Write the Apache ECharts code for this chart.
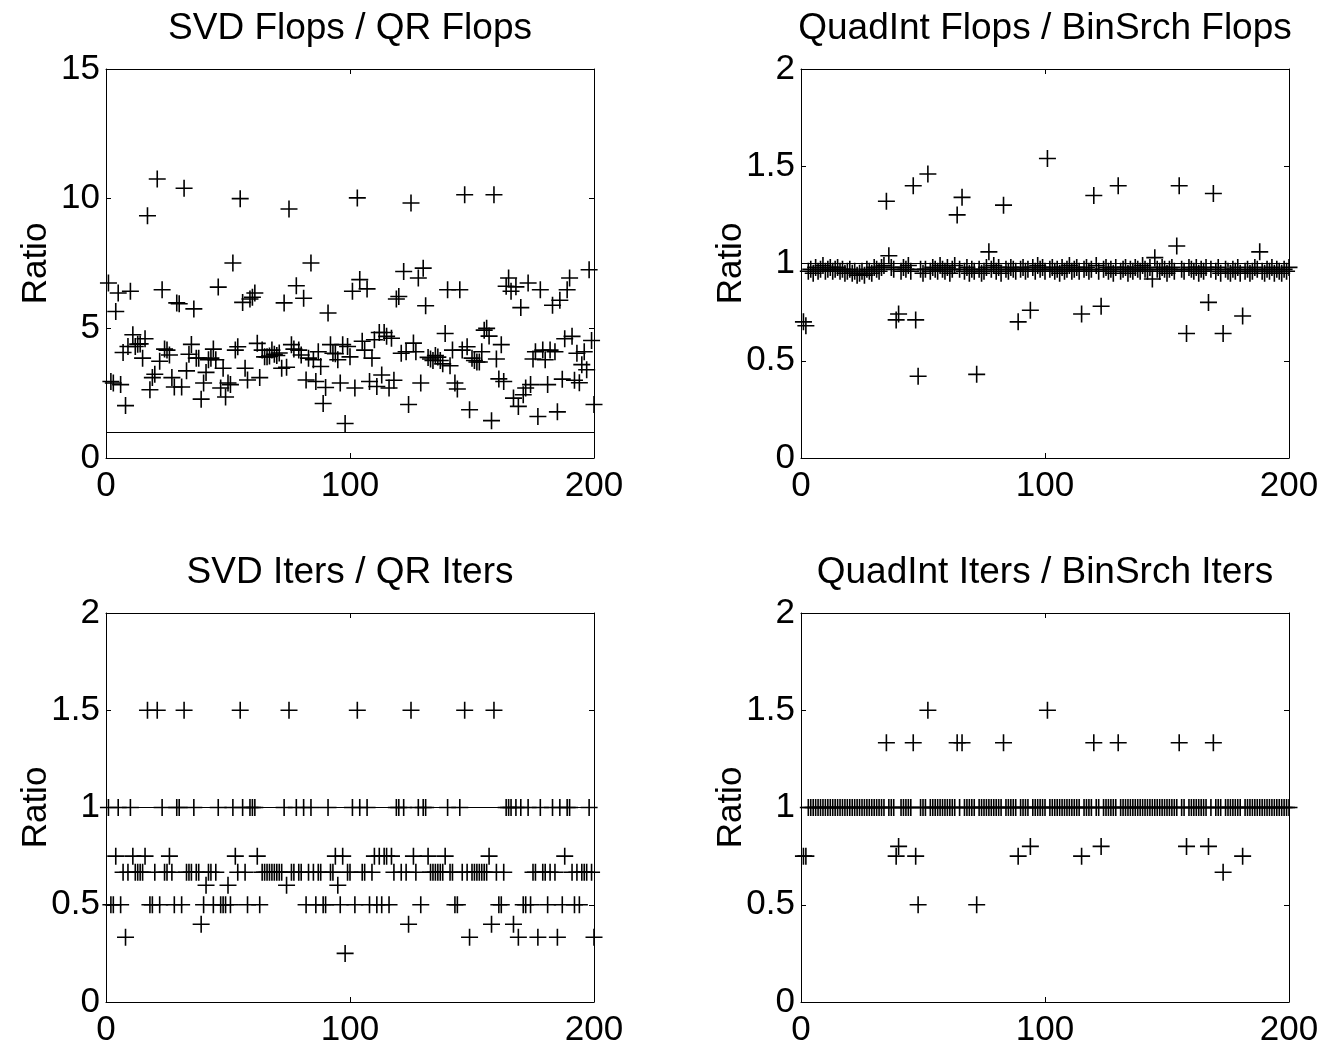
<!DOCTYPE html>
<html><head><meta charset="utf-8">
<script src="https://cdn.jsdelivr.net/npm/echarts@6/dist/echarts.min.js"></script>
<style>html,body{margin:0;padding:0;background:#fff}#c{width:1326px;height:1051px}</style>
</head><body><div id="c"></div>
<script>
// ---- data ----
const panelTitles = ['SVD Flops / QR Flops', 'QuadInt Flops / BinSrch Flops', 'SVD Iters / QR Iters', 'QuadInt Iters / BinSrch Iters'];
const yAxisName = 'Ratio';
const xTicks = [0, 100, 200];
const flopsTicks = [0, 5, 10, 15];
const ratioTicks = [0, 0.5, 1, 1.5, 2];
const referenceRatio = 1;

// problem index 1..200
const svdFlopsRatio = [
 6.75,2.95,2.89,5.65,6.36,2.83,4.07,2.02,4.30,6.43,4.75,4.30,4.39,4.40,3.85,4.60,9.34,2.63,3.10,3.23,
 10.76,3.73,6.49,4.20,4.16,3.97,3.10,2.74,5.98,5.95,2.74,10.40,3.36,4.00,4.38,5.75,3.85,3.85,2.27,2.89,
 3.30,3.79,3.85,4.20,3.79,6.59,2.70,3.46,2.35,2.89,2.83,7.52,4.16,4.29,10.00,6.00,3.46,3.01,6.13,6.20,
 6.36,4.42,3.10,4.16,3.90,3.90,3.93,4.16,4.00,3.95,4.05,3.46,5.98,3.50,9.60,4.37,4.20,6.64,4.16,3.97,
 6.16,3.01,3.85,7.52,3.79,2.95,4.10,3.53,2.10,2.72,5.59,4.37,4.04,4.02,3.79,2.89,4.37,1.33,4.30,3.90,
 6.43,2.70,10.03,6.88,4.50,4.16,6.52,2.95,3.85,4.56,2.76,4.84,3.20,4.84,4.69,2.70,4.62,3.00,6.13,6.23,
 4.04,7.19,4.10,2.06,9.83,4.43,4.10,6.94,2.89,7.32,5.87,3.88,3.82,3.76,3.95,3.89,3.76,3.63,4.80,6.49,
 3.56,4.16,2.89,2.66,6.49,4.16,10.15,4.29,1.86,3.85,3.76,3.70,3.70,4.10,4.93,5.00,4.70,1.44,10.15,3.82,
 3.05,4.37,2.95,6.62,6.94,6.43,2.31,6.60,1.99,5.80,2.44,2.70,6.75,2.83,3.82,4.10,1.60,6.49,4.16,3.79,
 2.83,4.16,5.89,4.10,1.78,6.08,3.04,4.60,6.49,6.94,4.69,3.00,4.04,2.90,3.60,4.10,3.40,7.26,4.53,2.06
];
const quadFlopsRatio = [
 0.70,0.68,0.96,0.97,0.95,0.98,0.96,0.97,0.99,0.96,0.97,0.98,0.96,0.97,0.98,0.96,0.97,0.95,0.96,0.97,
 0.95,0.96,0.94,0.95,0.96,0.94,0.97,0.96,0.95,0.98,0.97,0.96,0.98,0.99,1.32,1.04,0.98,0.97,0.71,0.74,
 0.96,0.98,0.97,0.99,0.96,1.40,0.71,0.42,0.97,0.95,0.97,1.46,0.96,0.98,0.97,0.96,0.99,0.97,0.96,0.98,
 0.95,0.97,0.99,1.25,0.97,1.34,0.96,0.98,0.95,0.97,0.96,0.43,0.97,0.95,0.96,0.98,1.06,0.97,0.99,0.96,
 0.98,0.95,1.30,0.97,0.96,0.98,0.97,0.96,0.70,0.97,0.98,0.96,0.97,0.76,0.98,0.96,0.99,0.97,0.98,0.96,
 1.54,0.97,0.98,0.96,0.97,0.95,0.98,0.96,0.97,0.99,0.96,0.97,0.98,0.96,0.74,0.97,0.98,0.96,0.97,1.35,
 0.99,0.96,0.78,0.97,0.98,0.96,0.97,0.95,0.98,1.40,0.96,0.97,0.98,0.95,0.97,0.96,0.98,0.97,0.96,0.99,
 0.97,0.96,0.98,0.92,1.03,0.97,0.96,0.98,0.97,0.95,0.97,0.98,0.96,1.09,1.40,0.97,0.96,0.64,0.98,0.97,
 0.96,0.98,0.95,0.97,0.96,0.98,0.80,0.97,1.36,0.96,0.98,0.95,0.64,0.97,0.96,0.95,0.97,0.96,0.98,0.95,
 0.73,0.96,0.97,0.95,0.96,0.98,0.97,1.06,0.96,0.95,0.97,0.96,0.98,0.95,0.97,0.96,0.95,0.97,0.96,0.98
];
const svdItersRatio = [
 1,.5,.5,.75,1,.5,.6667,.3333,.6667,1,.75,.6667,.6667,.6667,.6667,.75,1.5,.5,.5,.6667,
 1.5,.5,1,.6667,.6667,.75,.6667,.5,1,1,.5,1.5,.6667,.6667,.6667,1,.6667,.6667,.4,.5,
 .6,.6667,.6667,.5,.6667,1,.5,.5,.5,.6,.5,1,.75,.6667,1.5,1,.6667,.5,1,1,
 1,.75,.5,.6667,.6667,.6667,.6667,.6667,.6667,.6667,.6667,.6667,1,.6,1.5,.6667,.6667,1,.6667,.6667,
 1,.5,.6667,1,.6667,.5,.6667,.6667,.5,.5,1,.6667,.6667,.75,.6,.5,.75,.25,.6667,.6667,
 1,.5,1.5,1,.6667,.6667,1,.5,.6667,.75,.5,.75,.5,.75,.75,.5,.75,.6667,1,1,
 .6667,1,.6667,.4,1.5,.75,.6667,1,.5,1,1,.75,.6667,.6667,.6667,.6667,.6667,.6667,.75,1,
 .6667,.6667,.5,.5,1,.6667,1.5,.6667,.3333,.6667,.6667,.6667,.6667,.6667,.6667,.6667,.75,.4,1.5,.6667,
 .5,.5,.6667,1,1,1,.4,1,.3333,1,.5,.5,1,.5,.6667,.6667,.3333,1,.6667,.6667,
 .5,.6667,1,.6667,.3333,1,.5,.75,1,1,.6667,.5,.6667,.5,.6667,.6667,.6667,1,.6667,.3333
];
const quadItersRatio = [
 .75,.75,1,1,1,1,1,1,1,1,1,1,1,1,1,1,1,1,1,1,
 1,1,1,1,1,1,1,1,1,1,1,1,1,1,1.3333,1,1,1,.75,.8,
 1,1,1,1,1,1.3333,.75,.5,1,1,1,1.5,1,1,1,1,1,1,1,1,
 1,1,1,1.3333,1,1.3333,1,1,1,1,1,.5,1,1,1,1,1,1,1,1,
 1,1,1.3333,1,1,1,1,1,.75,1,1,1,1,.8,1,1,1,1,1,1,
 1.5,1,1,1,1,1,1,1,1,1,1,1,1,1,.75,1,1,1,1,1.3333,
 1,1,.8,1,1,1,1,1,1,1.3333,1,1,1,1,1,1,1,1,1,1,
 1,1,1,1,1,1,1,1,1,1,1,1,1,1,1.3333,1,1,.8,1,1,
 1,1,1,1,1,1,.8,1,1.3333,1,1,1,.6667,1,1,1,1,1,1,1,
 .75,1,1,1,1,1,1,1,1,1,1,1,1,1,1,1,1,1,1,1
];
const panelData = [svdFlopsRatio, quadFlopsRatio, svdItersRatio, quadItersRatio];
const panelTicks = [flopsTicks, ratioTicks, ratioTicks, ratioTicks];

// ---- layout ----
const FONT = "'Liberation Sans', Arial, Helvetica, sans-serif";
const boxes = [
  {left: 106, top: 69, width: 488, height: 389},
  {left: 801, top: 69, width: 488, height: 389},
  {left: 106, top: 613, width: 488, height: 389},
  {left: 801, top: 613, width: 488, height: 389}
];
const plusPath = 'path://M7.25,0H8.75V7.25H16V8.75H8.75V16H7.25V8.75H0V7.25H7.25Z';

const grid = [], xAxis = [], yAxis = [], series = [], graphic = [];
boxes.forEach((b, g) => {
  grid.push({left: b.left, top: b.top, width: b.width, height: b.height, containLabel: false});
  const ticks = panelTicks[g];
  const yMin = ticks[0], yMax = ticks[ticks.length - 1], yInt = ticks[1] - ticks[0];
  const line = {show: true, onZero: false, lineStyle: {color: '#000', width: 1}};
  const tick = {show: true, inside: true, length: 5, lineStyle: {color: '#000', width: 1}};
  const xBase = {gridIndex: g, type: 'value', min: xTicks[0], max: xTicks[xTicks.length - 1],
    interval: xTicks[1] - xTicks[0], axisLine: line, axisTick: tick, splitLine: {show: false}};
  xAxis.push(Object.assign({}, xBase, {position: 'bottom',
    axisLabel: {fontSize: 35, color: '#000', fontFamily: FONT, margin: 11}}));
  xAxis.push(Object.assign({}, xBase, {position: 'top', axisLabel: {show: false}}));
  const yBase = {gridIndex: g, type: 'value', min: yMin, max: yMax, interval: yInt,
    axisLine: line, axisTick: tick, splitLine: {show: false}};
  yAxis.push(Object.assign({}, yBase, {position: 'left',
    axisLabel: {fontSize: 35, color: '#000', fontFamily: FONT, margin: 6, padding: [7, 0, 0, 0]}}));
  yAxis.push(Object.assign({}, yBase, {position: 'right', axisLabel: {show: false}}));

  series.push({
    type: 'scatter', xAxisIndex: 2 * g, yAxisIndex: 2 * g,
    data: panelData[g].map((v, i) => [i + 1, v]),
    symbol: plusPath, symbolSize: 17, symbolKeepAspect: true,
    itemStyle: {color: '#000', opacity: 1},
    silent: true,
    markLine: {silent: true, symbol: ['none', 'none'], label: {show: false},
      lineStyle: {color: '#000', width: 1, type: 'solid'}, data: [{yAxis: referenceRatio}]}
  });

  graphic.push({type: 'text', x: b.left + b.width / 2, y: b.top - 40,
    style: {text: panelTitles[g], fill: '#000', font: '37px ' + FONT, align: 'center', verticalAlign: 'middle'}});
  graphic.push({type: 'text', x: b.left - 70, y: b.top + b.height / 2, rotation: Math.PI / 2,
    style: {text: yAxisName, fill: '#000', font: '35px ' + FONT, align: 'center', verticalAlign: 'middle'}});
});

const chart = echarts.init(document.getElementById('c'));
chart.setOption({animation: false, backgroundColor: '#fff', grid, xAxis, yAxis, series, graphic});
</script></body></html>
